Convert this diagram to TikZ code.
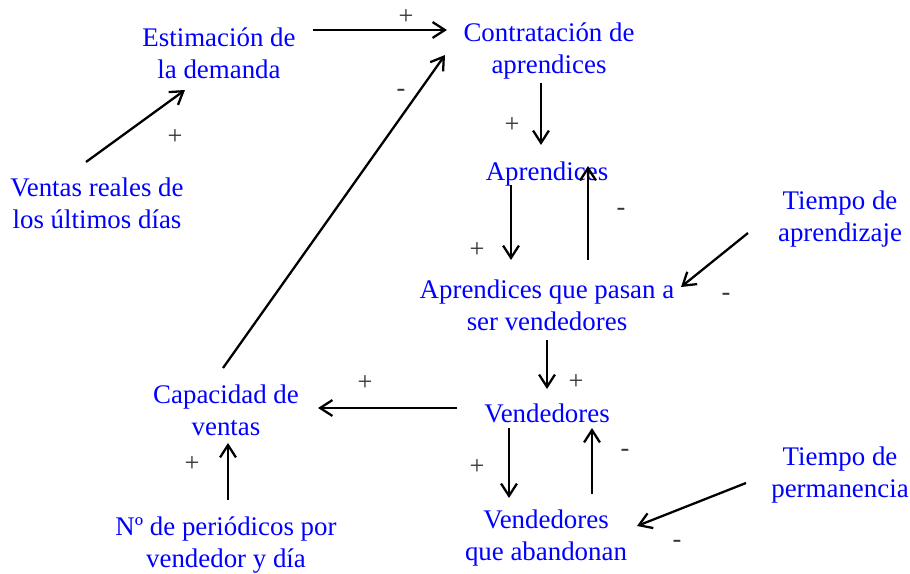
\documentclass[tikz,border=0pt]{standalone}
\usepackage{fontspec}
\setmainfont{Liberation Serif}
\usetikzlibrary{arrows.meta}
\tikzset{post/.style={->,>={Straight Barb[length=7pt,width=9pt]},line width=1.3pt},
  var/.style={text=blue,align=center,font=\fontsize{15.3}{18.2}\selectfont,inner sep=0pt},
  sign/.style={text=black!80,font=\fontsize{15}{17}\selectfont,inner sep=0pt}}

\begin{document}
\begin{tikzpicture}[x=0.02cm,y=-0.02cm]
  \useasboundingbox (0,0) rectangle (910,574);

  % variables
  \node[var] (est) at (219,53) {Estimación de\\la demanda};
  \node[var] (contr) at (549,51) {Contratación de\\aprendices};
  \node[var] (ventas) at (97,203) {Ventas reales de\\los últimos días};
  \node[var] (apr) at (547,174) {Aprendices};
  \node[var] (tiempoA) at (840,219) {Tiempo de\\aprendizaje};
  \node[var] (pasan) at (547,305) {Aprendices que pasan a\\ser vendedores};
  \node[var] (cap) at (226,410) {Capacidad de\\ventas};
  \node[var] (vend) at (547,413) {Vendedores};
  \node[var] (tiempoP) at (840,475) {Tiempo de\\permanencia};
  \node[var] (aband) at (546,538) {Vendedores\\que abandonan};
  \node[var] (nper) at (226,545) {Nº de periódicos por\\vendedor y día};

  % links
  \draw[post] ([shift={(94,-23)}]est.center) -- ([shift={(-102,-21)}]contr.center);
  \draw[post] ([shift={(-11,-41)}]ventas.center) -- ([shift={(-34,37)}]est.center);
  \draw[post] ([shift={(-3,-42)}]cap.center) -- ([shift={(-104,4)}]contr.center);
  \draw[post] ([shift={(-8,32)}]contr.center) -- ([shift={(-6,-29)}]apr.center);
  \draw[post] ([shift={(-36,11)}]apr.center) -- ([shift={(-36,-45)}]pasan.center);
  \draw[post] ([shift={(41,-45)}]pasan.center) -- ([shift={(41,-8)}]apr.center);
  \draw[post] ([shift={(-92,14)}]tiempoA.center) -- ([shift={(134,-18)}]pasan.center);
  \draw[post] ([shift={(0,35)}]pasan.center) -- ([shift={(0,-24)}]vend.center);
  \draw[post] ([shift={(-90,-5)}]vend.center) -- ([shift={(92,-2)}]cap.center);
  \draw[post] ([shift={(-38,15)}]vend.center) -- ([shift={(-37,-40)}]aband.center);
  \draw[post] ([shift={(46,-44)}]aband.center) -- ([shift={(45,15)}]vend.center);
  \draw[post] ([shift={(-94,8)}]tiempoP.center) -- ([shift={(91,-12)}]aband.center);
  \draw[post] ([shift={(2,-45)}]nper.center) -- ([shift={(2,33)}]cap.center);

  % signs
  \node[sign] (s1) at (406,17) {+};
  \node[sign] (s2) at (175,137) {+};
  \node[sign] (s3) at (401,93) {-};
  \node[sign] (s4) at (512,125) {+};
  \node[sign] (s5) at (477,250) {+};
  \node[sign] (s6) at (621,212) {-};
  \node[sign] (s7) at (726,297) {-};
  \node[sign] (s8) at (576,382) {+};
  \node[sign] (s9) at (365,383) {+};
  \node[sign] (s10) at (477,467) {+};
  \node[sign] (s11) at (625,453) {-};
  \node[sign] (s12) at (677,544) {-};
  \node[sign] (s13) at (192,464) {+};

\end{tikzpicture}
\end{document}
